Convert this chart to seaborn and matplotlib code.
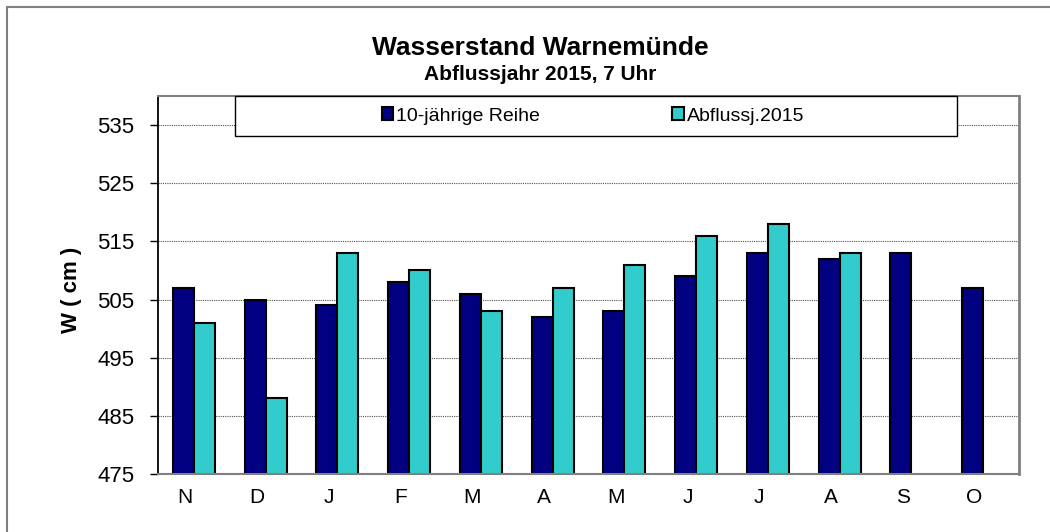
import numpy as np
import pandas as pd
import seaborn as sns
import matplotlib.pyplot as plt
from matplotlib.patches import Rectangle


MONTHS = ["N", "D", "J", "F", "M", "A", "M", "J", "J", "A", "S", "O"]
REIHE = [507, 505, 504, 508, 506, 502, 503, 509, 513, 512, 513, 507]
ABFLUSS = [501, 488, 513, 510, 503, 507, 511, 516, 518, 513, np.nan, np.nan]
SERIES = ["10-jährige Reihe", "Abflussj.2015"]
COLORS = ["#000080", "#33CCCC"]

W, H = 1050, 532


def main() -> None:
    n = len(MONTHS)
    df = pd.DataFrame(
        {
            "pos": list(range(n)) * 2,
            "serie": [SERIES[0]] * n + [SERIES[1]] * n,
            "w": REIHE + ABFLUSS,
        }
    )

    sns.set_theme(style="white")
    plt.rcParams["font.family"] = ["Liberation Sans", "DejaVu Sans"]
    plt.rcParams["text.color"] = "black"
    plt.rcParams["axes.labelcolor"] = "black"

    fig = plt.figure(figsize=(W / 100, H / 100), dpi=100)
    ax = fig.add_axes([158 / W, 58 / H, 861 / W, 378 / H])

    sns.barplot(
        data=df, x="pos", y="w", hue="serie", hue_order=SERIES, palette=COLORS,
        width=0.585, edgecolor="black", linewidth=1.5, saturation=1,
        errorbar=None, ax=ax,
    )

    ax.set_ylim(475, 540)
    ax.set_yticks(range(475, 540, 10))
    ax.set_xlim(-0.5, n - 0.5)
    ax.set_xticks(np.arange(n) - 0.12, MONTHS)
    ax.set_axisbelow(True)
    ax.yaxis.grid(True, linestyle=(0, (1, 1)), color="#505050", linewidth=0.8)
    ax.xaxis.grid(False)

    ax.tick_params(axis="y", left=True, direction="out", length=6, width=1,
                   pad=11, labelsize=16, colors="black")
    ax.tick_params(axis="x", bottom=False, length=0, pad=10, labelsize=15, colors="black")

    ax.spines["left"].set_color("black")
    ax.spines["left"].set_linewidth(1.3)
    for side, lw in (("bottom", 1.5), ("top", 1.5), ("right", 2.0)):
        ax.spines[side].set_color("#808080")
        ax.spines[side].set_linewidth(lw)

    ax.set_xlabel("")
    ax.set_ylabel("W ( cm )", fontsize=16, fontweight="bold", color="black")
    ax.yaxis.set_label_coords(-0.088, 0.487)

    handles, labels = ax.get_legend_handles_labels()
    if ax.get_legend() is not None:
        ax.get_legend().remove()

    # legend box (white, black edge) sitting on top of the plot area
    fig.add_artist(Rectangle((235 / W, 1 - 136 / H), 722 / W, 40 / H,
                             transform=fig.transFigure, facecolor="white",
                             edgecolor="black", linewidth=1.0, zorder=2))
    leg = fig.legend(
        handles, labels, loc="center", bbox_to_anchor=(593 / W, 1 - 116 / H),
        ncol=2, frameon=False, fontsize=14, handlelength=0.6, handleheight=0.6,
        handletextpad=0.15, columnspacing=6.8,
    )
    leg.set_zorder(5)

    # outer chart frame
    fig.add_artist(Rectangle((7 / W, -0.5), 2, 1.5 - 7 / H, transform=fig.transFigure,
                             fill=False, edgecolor="#808080", linewidth=1.5))

    fig.text(540 / W, 1 - 48 / H, "Wasserstand Warnemünde", ha="center", va="center",
             fontsize=19, fontweight="bold")
    fig.text(540 / W, 1 - 74.5 / H, "Abflussjahr 2015, 7 Uhr", ha="center", va="center",
             fontsize=15, fontweight="bold")

    fig.savefig("out.png", dpi=100)
    plt.close(fig)


if __name__ == "__main__":
    main()
